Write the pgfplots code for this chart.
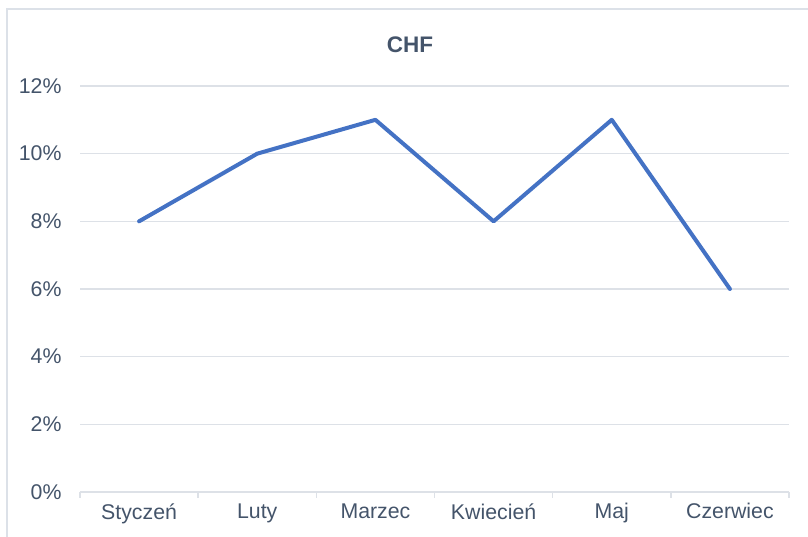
\documentclass[border=0pt]{standalone}
\usepackage{pgfplots}
\pgfplotsset{compat=1.18}
\usepackage{fontspec}
\setmainfont{Liberation Sans}
\definecolor{txt}{HTML}{44546A}
\definecolor{gridc}{HTML}{DDE1E7}
\definecolor{framec}{HTML}{DCE1E8}
\definecolor{linec}{HTML}{4472C4}
\begin{document}
\begin{tikzpicture}[x=1bp,y=1bp]
\useasboundingbox (0,0) rectangle (808,537);
\draw[framec, line width=1.6bp] (7,0) -- (7,528) -- (808,528);
\begin{axis}[
  at={(80bp,45bp)}, anchor=south west,
  scale only axis, width=709bp, height=406bp,
  xmin=-0.5, xmax=5.5, ymin=0, ymax=12,
  xtick={0,1,2,3,4,5},
  xticklabels={Styczeń,Luty,Marzec,Kwiecień,Maj,Czerwiec},
  minor xtick={-0.5,0.5,1.5,2.5,3.5,4.5,5.5},
  ytick={0,2,4,6,8,10,12},
  yticklabel={\pgfmathprintnumber{\tick}\%},
  /pgf/number format/assume math mode=true,
  axis lines*=left,
  x axis line style={draw=gridc, line width=1.4bp},
  y axis line style={draw=none},
  tick align=outside,
  major tick length=0pt,
  minor tick length=6bp,
  minor tick style={draw=gridc, line width=1.4bp},
  ymajorgrids,
  major grid style={draw=gridc, line width=1.4bp},
  tick label style={font=\fontsize{21.3bp}{25bp}\selectfont, text=txt},
  yticklabel style={xshift=-15bp},
  xticklabel style={yshift=-8bp},
  clip=false,
]
\addplot[linec, line width=4bp, line join=round, line cap=round] coordinates {
  (0,8) (1,10) (2,11) (3,8) (4,11) (5,6)
};
\end{axis}
\node[text=txt, font=\fontsize{22.5bp}{26bp}\selectfont\bfseries] at (410,492) {CHF};
\end{tikzpicture}
\end{document}
